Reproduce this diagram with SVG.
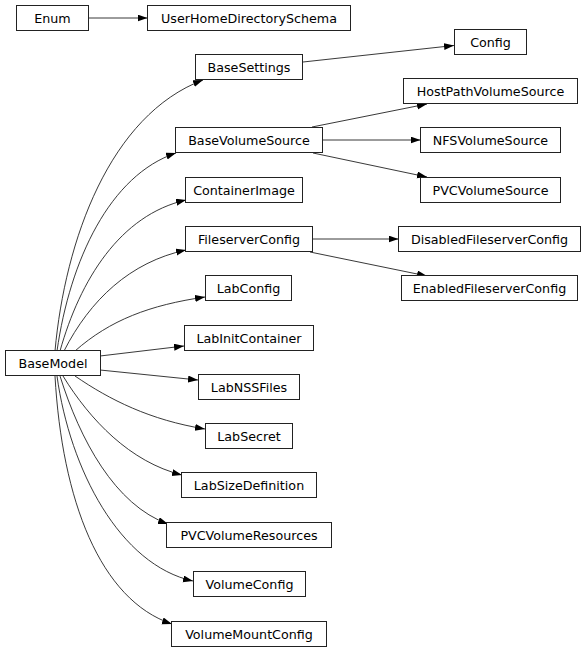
<svg xmlns="http://www.w3.org/2000/svg" width="588" height="652" viewBox="0 0 588 652">
<style>
.n rect{fill:#fff;stroke:#222;stroke-width:1}
.n text{font-family:"DejaVu Sans",sans-serif;font-size:12.7px;fill:#000;text-anchor:middle}
.e path{fill:none;stroke:#222;stroke-width:0.9;marker-end:url(#ah)}
</style>
<defs>
<marker id="ah" markerUnits="userSpaceOnUse" markerWidth="11" markerHeight="8" refX="10" refY="3.5" orient="auto">
<path d="M0,0 L10,3.5 L0,7 z" fill="#000"/>
</marker>
</defs>
<rect width="588" height="652" fill="#fff"/>
<g id="edges" class="e">
<path d="M88.5,18 L147.5,18"/>
<path d="M303,62 L454,45.5"/>
<path d="M312,127 L427,104"/>
<path d="M322.5,140 L420.5,140"/>
<path d="M313,153 L427,177"/>
<path d="M312.5,239 L398.5,239"/>
<path d="M310,252 L427,276"/>
<path d="M55,351 C65,240 110,115 203,80"/>
<path d="M57,351 C70,260 110,175 176,153"/>
<path d="M60,351 C80,280 120,215 186,200"/>
<path d="M64,351 C90,300 130,262 186,250"/>
<path d="M75,351 C110,320 150,305 205,297"/>
<path d="M100,356 L184,346"/>
<path d="M100,370 L198,380"/>
<path d="M75,376 C110,400 150,420 205,429"/>
<path d="M63,376 C90,420 130,462 182,475"/>
<path d="M60,376 C80,440 115,505 168,524"/>
<path d="M57,376 C70,470 120,565 193,581"/>
<path d="M55,376 C62,500 100,600 172,624"/>
</g>
<g id="Enum" class="n"><rect x="16.5" y="5.5" width="72" height="25"/><text x="52.5" y="22.5">Enum</text></g>
<g id="UserHomeDirectorySchema" class="n"><rect x="147.5" y="5.5" width="203" height="25"/><text x="249" y="22.5">UserHomeDirectorySchema</text></g>
<g id="Config" class="n"><rect x="454.5" y="29.5" width="72" height="25"/><text x="490.5" y="46.5">Config</text></g>
<g id="BaseSettings" class="n"><rect x="195.5" y="54.5" width="107" height="25"/><text x="249" y="71.5">BaseSettings</text></g>
<g id="HostPathVolumeSource" class="n"><rect x="403.5" y="78.5" width="174" height="25"/><text x="490.5" y="95.5">HostPathVolumeSource</text></g>
<g id="BaseVolumeSource" class="n"><rect x="175.5" y="127.5" width="147" height="25"/><text x="249" y="144.5">BaseVolumeSource</text></g>
<g id="NFSVolumeSource" class="n"><rect x="420.5" y="127.5" width="140" height="25"/><text x="490.5" y="144.5">NFSVolumeSource</text></g>
<g id="ContainerImage" class="n"><rect x="185.5" y="177.5" width="117" height="25"/><text x="244" y="194.5">ContainerImage</text></g>
<g id="PVCVolumeSource" class="n"><rect x="420.5" y="177.5" width="140" height="25"/><text x="490.5" y="194.5">PVCVolumeSource</text></g>
<g id="FileserverConfig" class="n"><rect x="185.5" y="226.5" width="127" height="25"/><text x="249" y="243.5">FileserverConfig</text></g>
<g id="DisabledFileserverConfig" class="n"><rect x="398.5" y="226.5" width="182" height="25"/><text x="489.5" y="243.5">DisabledFileserverConfig</text></g>
<g id="LabConfig" class="n"><rect x="205.5" y="275.5" width="86" height="25"/><text x="248.5" y="292.5">LabConfig</text></g>
<g id="EnabledFileserverConfig" class="n"><rect x="401.5" y="275.5" width="176" height="25"/><text x="489.5" y="292.5">EnabledFileserverConfig</text></g>
<g id="LabInitContainer" class="n"><rect x="184.5" y="325.5" width="129" height="25"/><text x="249" y="342.5">LabInitContainer</text></g>
<g id="BaseModel" class="n"><rect x="5.5" y="350.5" width="95" height="25"/><text x="53" y="367.5">BaseModel</text></g>
<g id="LabNSSFiles" class="n"><rect x="198.5" y="374.5" width="101" height="25"/><text x="249" y="391.5">LabNSSFiles</text></g>
<g id="LabSecret" class="n"><rect x="205.5" y="423.5" width="87" height="25"/><text x="249" y="440.5">LabSecret</text></g>
<g id="LabSizeDefinition" class="n"><rect x="181.5" y="472.5" width="135" height="25"/><text x="249" y="489.5">LabSizeDefinition</text></g>
<g id="PVCVolumeResources" class="n"><rect x="166.5" y="522.5" width="165" height="25"/><text x="249" y="539.5">PVCVolumeResources</text></g>
<g id="VolumeConfig" class="n"><rect x="193.5" y="571.5" width="112" height="25"/><text x="249.5" y="588.5">VolumeConfig</text></g>
<g id="VolumeMountConfig" class="n"><rect x="171.5" y="621.5" width="155" height="25"/><text x="249" y="638.5">VolumeMountConfig</text></g>
</svg>
